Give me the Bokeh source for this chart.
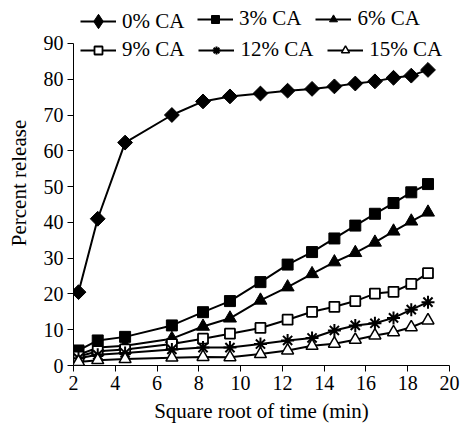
import math
from bokeh.plotting import figure
from bokeh.models import Range1d, Legend, LegendItem, FixedTicker
from bokeh.embed import file_html
from bokeh.resources import INLINE

# data (square root of time in min, percent release)
sqrt_time = [2.24, 3.16, 4.47, 6.71, 8.2, 9.49, 10.95, 12.25, 13.42, 14.49, 15.49, 16.43, 17.32, 18.17, 18.97]
ca0 = [20.5, 41, 62.3, 70, 73.8, 75.2, 76, 76.8, 77.3, 78, 78.8, 79.4, 80.4, 81, 82.6]
ca3 = [4.2, 7, 8, 11.2, 14.9, 18, 23.3, 28.2, 31.7, 35.5, 39.1, 42.4, 45.4, 48.4, 50.7]
ca6 = [3, 5, 5.5, 7.5, 10.9, 13.2, 18.2, 21.9, 25.6, 28.9, 31.5, 34.4, 37.5, 40.3, 42.8]
ca9 = [2.5, 4, 4.5, 6, 7.5, 8.9, 10.5, 12.8, 15, 16.4, 18, 20.1, 20.6, 22.8, 25.8]
ca12 = [2, 3, 3.5, 4.5, 5, 5, 6, 7, 7.7, 9.8, 11.2, 11.8, 13.3, 15.6, 17.7]
ca15 = [1, 1.5, 1.8, 2.2, 2.4, 2.3, 3.2, 4.2, 5.5, 6.1, 7.2, 8.4, 9.3, 10.7, 12.6]
labels = ["0% CA", "3% CA", "6% CA", "9% CA", "12% CA", "15% CA"]
x_ticks = list(range(2, 21, 2))
y_ticks = list(range(0, 91, 10))

FONT = "Liberation Serif"

# frame reaches the top of the page so the legend (which sits above the 90 mark) is not clipped;
# the y axis itself is bounded to 0..90
p = figure(width=462, height=434, output_backend="svg", toolbar_location=None,
           x_range=Range1d(2, 20), y_range=Range1d(0, 102),
           min_border_left=73, min_border_right=13, min_border_top=0, min_border_bottom=69)
p.outline_line_color = None
p.grid.visible = False
p.background_fill_color = "white"

for ax in (p.xaxis[0], p.yaxis[0]):
    ax.major_label_text_font = FONT
    ax.major_label_text_font_size = "20px"
    ax.major_label_text_color = "black"
    ax.axis_label_text_font = FONT
    ax.axis_label_text_font_size = "21px"
    ax.axis_label_text_font_style = "normal"
    ax.axis_label_text_color = "black"
    ax.axis_line_color = "black"
    ax.major_tick_line_color = "black"
    ax.major_tick_in = 0
    ax.major_tick_out = 6
    ax.minor_tick_line_color = None

p.yaxis.bounds = (0, 90)
p.xaxis.ticker = FixedTicker(ticks=x_ticks)
p.yaxis.ticker = FixedTicker(ticks=y_ticks)
p.xaxis.axis_label = "Square root of time (min)"
p.yaxis.axis_label = "Percent release"
p.xaxis.major_label_standoff = 4
p.yaxis.major_label_standoff = 4
p.xaxis.axis_label_standoff = 6
p.yaxis.axis_label_standoff = 10

styles = [
    (ca0, dict(marker="square", size=10.5, angle=math.pi / 4, fill_color="black", line_color="black")),
    (ca3, dict(marker="square", size=11, fill_color="black", line_color="black")),
    (ca6, dict(marker="triangle", size=13, fill_color="black", line_color="black")),
    (ca9, dict(marker="square", size=10, fill_color="white", line_color="black", line_width=1.8)),
    (ca12, dict(marker="asterisk", size=13, line_color="black", line_width=2)),
    (ca15, dict(marker="triangle", size=12, fill_color="white", line_color="black", line_width=1.5)),
]

items = []
for i, ((ys, st), lab) in enumerate(zip(styles, labels)):
    ln = p.line(sqrt_time, ys, line_color="black", line_width=2)
    sc = p.scatter(sqrt_time, ys, **st)
    if i == 0:
        # legend swatch: the legend ignores marker angle, so use a hidden diamond renderer
        sw = p.scatter(sqrt_time, ys, marker="diamond", size=17, fill_color="black",
                       line_color="black", visible=False)
        items.append(LegendItem(label=lab, renderers=[ln, sw]))
    else:
        items.append(LegendItem(label=lab, renderers=[ln, sc]))

def make_legend(its, loc, gh=20):
    lg = Legend(items=its, location=loc, orientation="horizontal",
                label_text_font=FONT, label_text_font_size="21px",
                label_text_color="black", glyph_width=36, glyph_height=gh,
                label_standoff=6, spacing=14, padding=0, margin=0,
                border_line_color=None, background_fill_alpha=0)
    return lg

p.add_layout(make_legend(items[:1], (7, 324), gh=40), "center")
p.add_layout(make_legend(items[1:3], (124, 334)), "center")
p.add_layout(make_legend(items[3:], (7, 303)), "center")

open("out.html", "w").write(file_html(p, INLINE))
